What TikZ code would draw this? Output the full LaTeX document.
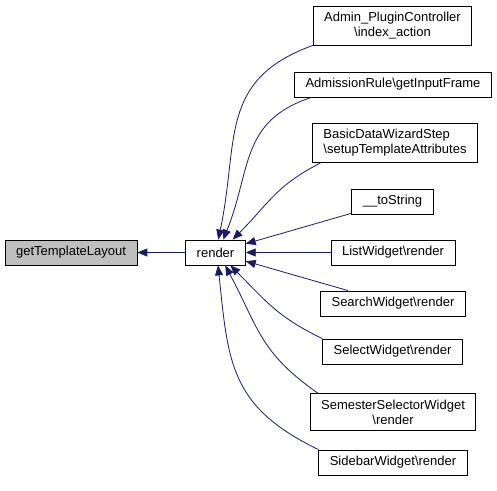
\documentclass[tikz,border=0pt]{standalone}
\usepackage{fontspec}
\setmainfont{Liberation Sans}
\usetikzlibrary{arrows.meta}
\definecolor{callblue}{RGB}{25, 25, 112}
\definecolor{focusgray}{RGB}{191, 191, 191}

\tikzset{
  fn/.style={draw, rectangle, line width=0.8pt, inner xsep=11pt, inner ysep=6pt,
    minimum height=25pt, font=\fontsize{13}{15}\selectfont},
  call/.style={draw=callblue, line width=0.8pt,
    -{Triangle[length=10pt, width=8pt]}}
}

\begin{document}
\begin{tikzpicture}[x=1pt, y=1pt]
                    \useasboundingbox (0,0) rectangle (497,490);

                    \node[fn, fill=focusgray] (gtl) at (71,237.5) {getTemplateLayout};
                    \node[fn] (render) at (215.5,237.5) {render};

                    \node[fn, align=center] (admin) at (392.5,464.5) {Admin\_PluginController\\\textbackslash index\_action};
                    \node[fn] (admission) at (393,405.5) {AdmissionRule\textbackslash getInputFrame};
                    \node[fn, align=left] (basicdata) at (395,347) {BasicDataWizardStep\\\textbackslash setupTemplateAttributes};
                    \node[fn] (tostring) at (392.5,288.5) {\_\_toString};
                    \node[fn] (listw) at (393,237.5) {ListWidget\textbackslash render};
                    \node[fn] (searchw) at (393,186.5) {SearchWidget\textbackslash render};
                    \node[fn] (selectw) at (392.5,138.5) {SelectWidget\textbackslash render};
                    \node[fn, align=center] (semester) at (393,78) {SemesterSelectorWidget\\\textbackslash render};
                    \node[fn] (sidebar) at (393,27.5) {SidebarWidget\textbackslash render};

                    \draw[call] (render) -- (gtl);

                    \draw[call] (admin.south west) to[out=200, in=78, looseness=1.2] (render.78);
                    \draw[call] (admission.189) to[out=198, in=68, looseness=1.15] (render.59);
                    \draw[call] (basicdata.195) to[out=207, in=45, looseness=1.1] (render.37);
                    \draw[call] (tostring) -- (render);
                    \draw[call] (listw) -- (render);
                    \draw[call] (searchw) -- (render);
                    \draw[call] (selectw.north west) to[out=154, in=-45, looseness=1.1] (render.-41);
                    \draw[call] (semester.166) to[out=145, in=-62, looseness=1.15] (render.-53);
                    \draw[call] (sidebar.north west) to[out=154, in=-84, looseness=1.2] (render.-79);
                \end{tikzpicture}
\end{document}
